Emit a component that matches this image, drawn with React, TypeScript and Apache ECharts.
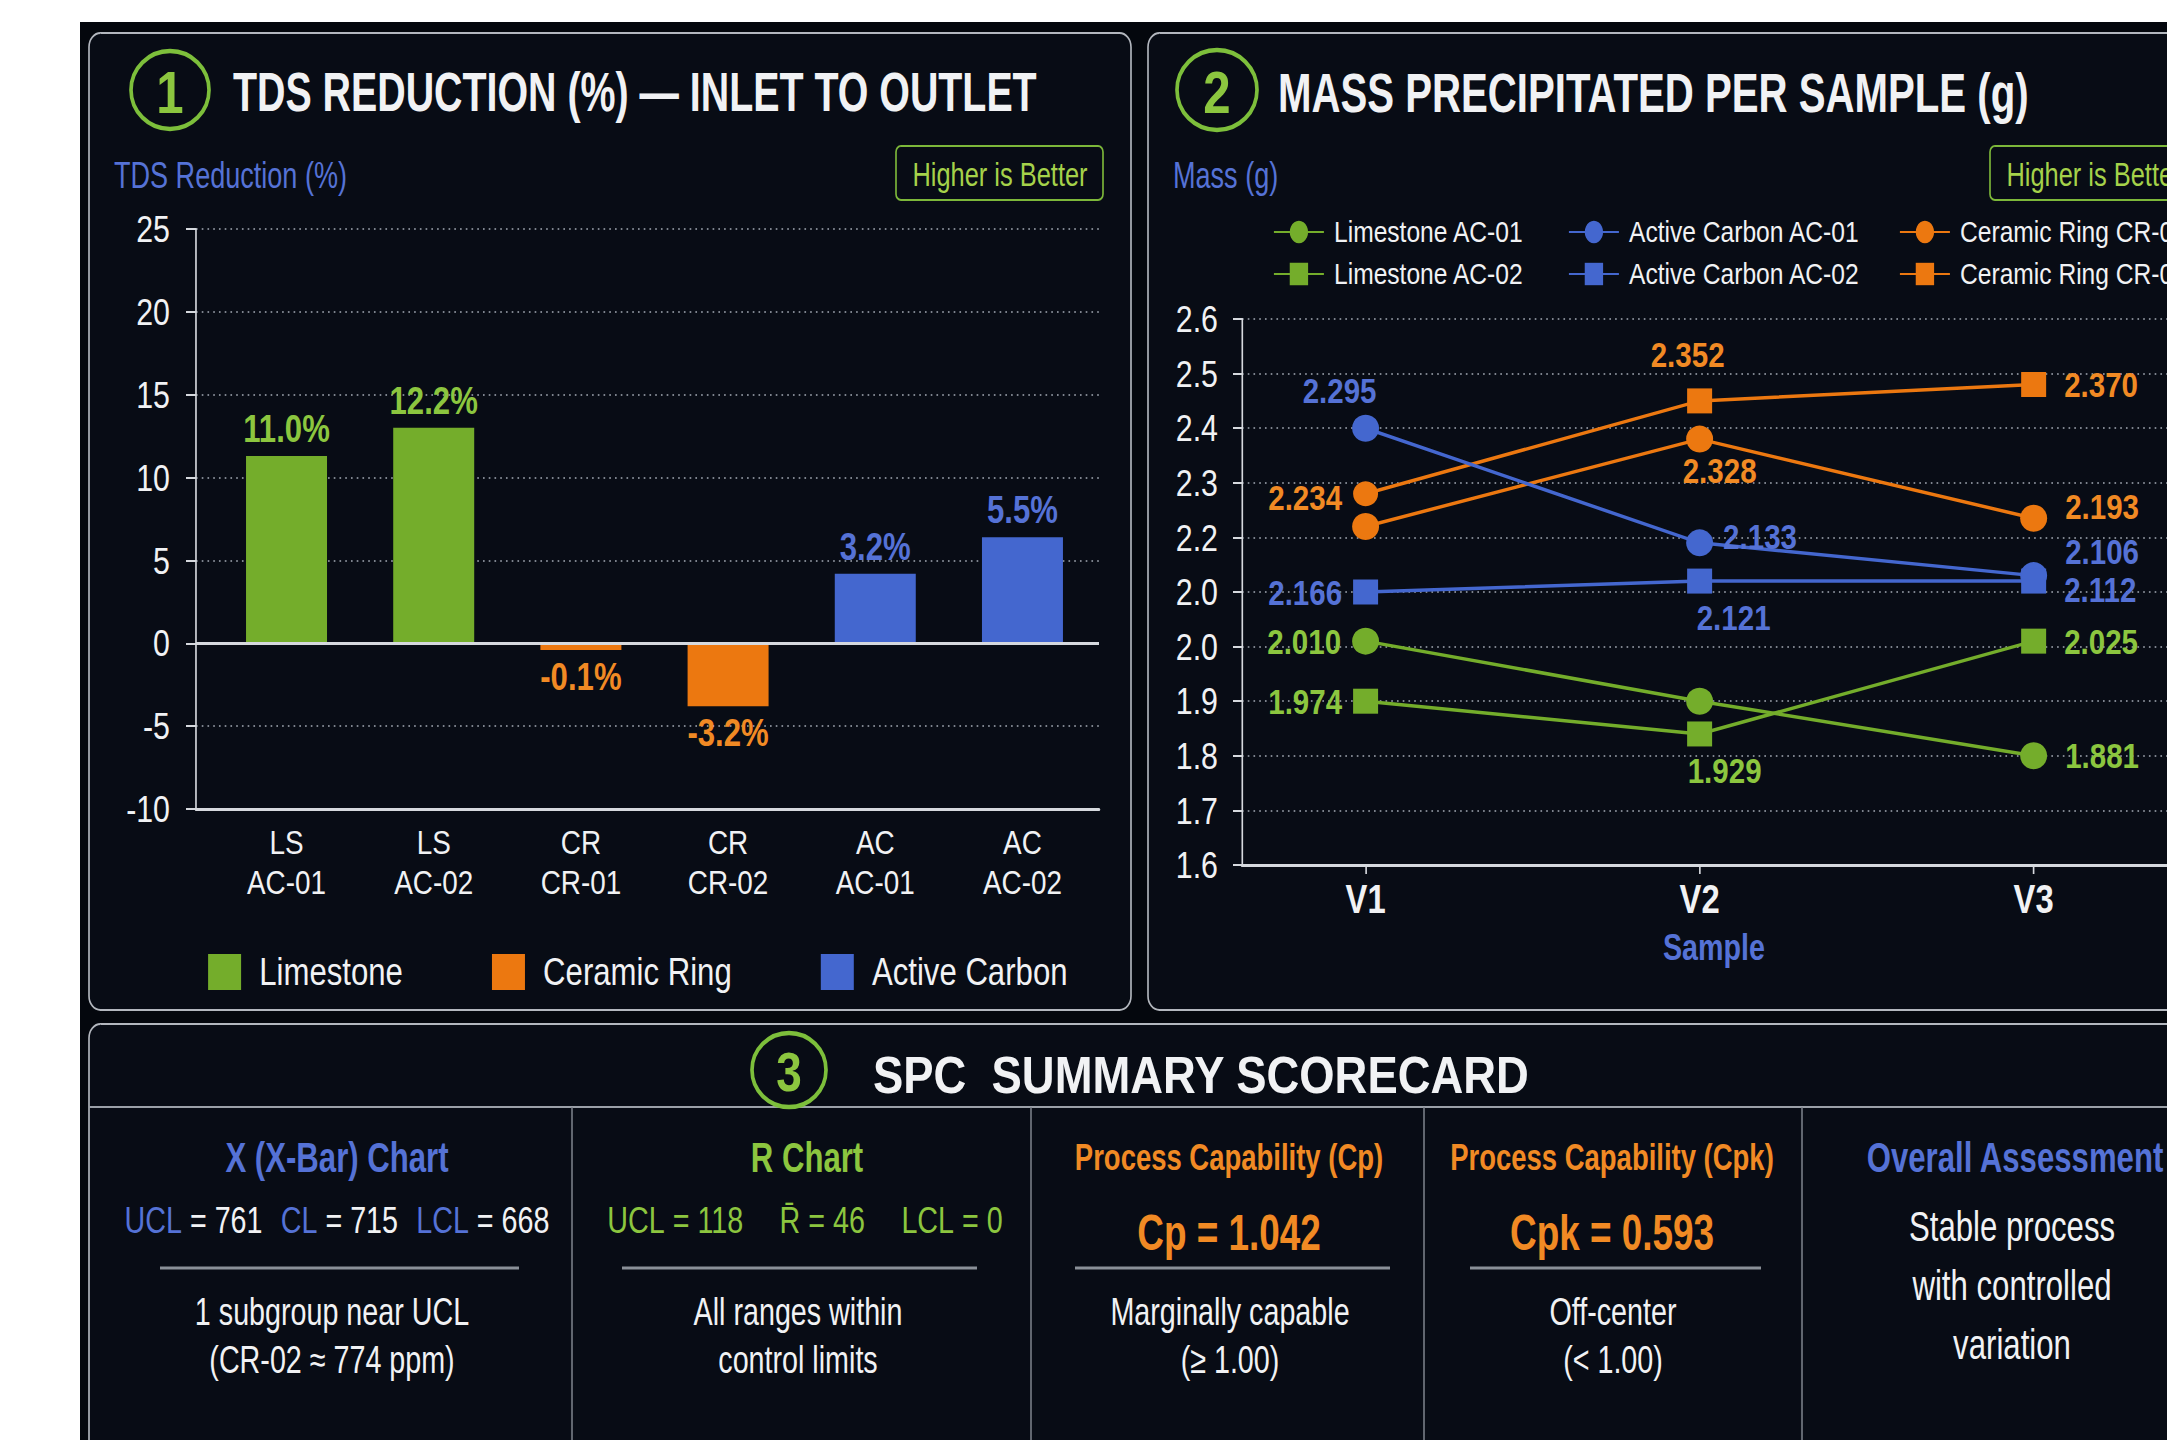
import React, { useEffect, useRef } from "react";
import * as echarts from "echarts";

// Arial-metric font, condensed horizontally by the page transform (≈ Arial Narrow)
const FONT = "'Liberation Sans', Arial, 'Noto Sans', sans-serif";
const S = 0.82; // horizontal condensation of the whole drawing
const X = (x: number) => x / S;

// ---------- Panel 1: TDS reduction ----------
const tdsCategories = ["LS\nAC-01", "LS\nAC-02", "CR\nCR-01", "CR\nCR-02", "AC\nAC-01", "AC\nAC-02"];
const mediaGroups = ["Limestone", "Ceramic Ring", "Active Carbon"];
const tdsGroupIndex = [0, 0, 1, 1, 2, 2];
const tdsValues = [11.3, 13.0, -0.4, -3.8, 4.2, 6.4];
const tdsLabels = ["11.0%", "12.2%", "-0.1%", "-3.2%", "3.2%", "5.5%"];
const tdsAxisMin = -10;
const tdsAxisMax = 25;
const tdsAxisStep = 5;

// ---------- Panel 2: mass precipitated ----------
const samples = ["V1", "V2", "V3"];
const massTickLabels = ["1.6", "1.7", "1.8", "1.9", "2.0", "2.0", "2.2", "2.3", "2.4", "2.5", "2.6"];
const massAxisMin = 1.6;
const massAxisMax = 2.6;
const massAxisStep = 0.1;

const limestoneAC01 = [2.01, 1.9, 1.8];
const limestoneAC01Labels = ["2.010", "", "1.881"];
const limestoneAC02 = [1.9, 1.84, 2.01];
const limestoneAC02Labels = ["1.974", "1.929", "2.025"];
const activeCarbonAC01 = [2.4, 2.19, 2.13];
const activeCarbonAC01Labels = ["2.295", "2.133", "2.106"];
const activeCarbonAC02 = [2.1, 2.12, 2.12];
const activeCarbonAC02Labels = ["2.166", "2.121", "2.112"];
const ceramicRingCR01 = [2.22, 2.38, 2.235];
const ceramicRingCR01Labels = ["", "2.328", "2.193"];
const ceramicRingCR02 = [2.28, 2.45, 2.48];
const ceramicRingCR02Labels = ["2.234", "2.352", "2.370"];

// ---------- Panel 3: SPC scorecard ----------
const spcHeaders = ["X (X-Bar) Chart", "R Chart", "Process Capability (Cp)", "Process Capability (Cpk)", "Overall Assessment"];
const xbarLimits = [["UCL", "761"], ["CL", "715"], ["LCL", "668"]];
const rLimits = [["UCL", "118"], ["R\u0304", "46"], ["LCL", "0"]];
const cpValue = "1.042";
const cpkValue = "0.593";
const xbarNote = ["1 subgroup near UCL", "(CR-02 \u2248 774 ppm)"];
const rNote = ["All ranges within", "control limits"];
const cpNote = ["Marginally capable", "(\u2265 1.00)"];
const cpkNote = ["Off-center", "(< 1.00)"];
const overallNote = ["Stable process", "with controlled", "variation"];

// ---------- colours ----------
const GREEN = "#74ad2b";
const ORANGE = "#ec7810";
const BLUE = "#4467cf";
const GREEN_T = "#8cc63f";
const ORANGE_T = "#f18a24";
const BLUE_T = "#5572d6";
const WHITE = "#f1f2f4";
const GRID = "#7d838d";
const AXIS = "#d6d9de";
const BG = "#04070d";
const PANEL = "#080c15";
const BORDER = "#b3b7be";

function buildOption() {
  const barColors = [GREEN, ORANGE, BLUE];
  const barLabelColors = [GREEN_T, ORANGE_T, BLUE_T];

  const barSeries = mediaGroups.map((g, gi) => ({
    type: "bar",
    name: g,
    xAxisIndex: 0,
    yAxisIndex: 0,
    barWidth: X(81),
    barGap: "-100%",
    itemStyle: { color: barColors[gi] },
    label: {
      show: true,
      fontFamily: FONT,
      fontSize: 38,
      fontWeight: "bold",
      color: barLabelColors[gi],
      distance: 8,
      formatter: (p: any) => tdsLabels[p.value[0]],
    },
    data: tdsValues
      .map((v, i) => ({ i, v }))
      .filter((d) => tdsGroupIndex[d.i] === gi)
      .map((d) => ({ value: [d.i, d.v], label: { position: d.v < 0 ? "bottom" : "top" } })),
    markLine:
      gi === 0
        ? {
            silent: true,
            symbol: "none",
            label: { show: false },
            lineStyle: { color: AXIS, width: 3, type: "solid" },
            data: [{ yAxis: 0 }],
          }
        : undefined,
  }));

  const lineColors = [GREEN, BLUE, ORANGE];
  const lineLabelColors = [GREEN_T, BLUE_T, ORANGE_T];
  const massSeriesDefs = [
    { name: "Limestone AC-01", values: limestoneAC01, labels: limestoneAC01Labels, kind: 0, symbol: "circle" },
    { name: "Limestone AC-02", values: limestoneAC02, labels: limestoneAC02Labels, kind: 0, symbol: "rect" },
    { name: "Active Carbon AC-01", values: activeCarbonAC01, labels: activeCarbonAC01Labels, kind: 1, symbol: "circle" },
    { name: "Active Carbon AC-02", values: activeCarbonAC02, labels: activeCarbonAC02Labels, kind: 1, symbol: "rect" },
    { name: "Ceramic Ring CR-01", values: ceramicRingCR01, labels: ceramicRingCR01Labels, kind: 2, symbol: "circle" },
    { name: "Ceramic Ring CR-02", values: ceramicRingCR02, labels: ceramicRingCR02Labels, kind: 2, symbol: "rect" },
  ];
  const L = (position: string, distance: number, dx = 0, dy = 0) => ({
    position,
    distance: position === "left" || position === "right" ? X(distance) : distance,
    offset: [X(dx), dy],
  });
  const placement: Record<string, any[]> = {
    "Limestone AC-01": [L("left", 11), null, L("right", 18)],
    "Limestone AC-02": [L("left", 11), L("bottom", 6, 25, 0), L("right", 18)],
    "Active Carbon AC-01": [L("top", 6, -26, 0), L("right", 10, 0, -6), L("right", 18, 0, -24)],
    "Active Carbon AC-02": [L("left", 11), L("bottom", 6, 34, 0), L("right", 18, 0, 8)],
    "Ceramic Ring CR-01": [null, L("bottom", 0, 20, 0), L("right", 18, 0, -12)],
    "Ceramic Ring CR-02": [L("left", 11, 0, 4), L("top", 16, -12, 0), L("right", 18)],
  };

  const lineSeries = massSeriesDefs.map((d) => ({
    type: "line",
    name: d.name,
    xAxisIndex: 1,
    yAxisIndex: 1,
    symbol: d.symbol,
    symbolSize: d.symbol === "circle" ? [X(27), 27] : [X(25), 25],
    lineStyle: { color: lineColors[d.kind], width: 3.5 },
    itemStyle: { color: lineColors[d.kind] },
    z: d.kind === 1 ? 4 : 3,
    label: {
      show: true,
      fontFamily: FONT,
      fontSize: 36,
      fontWeight: "bold",
      color: lineLabelColors[d.kind],
      formatter: (p: any) => d.labels[p.dataIndex],
    },
    data: d.values.map((v, i) => {
      const pl = placement[d.name][i];
      const item: any = { value: [i + 1, v], label: pl ? { show: true, ...pl } : { show: false } };
      if (d.name === "Ceramic Ring CR-02" && i === 0) item.symbol = "circle";
      return item;
    }),
  }));

  const txt = (text: string, x: number, y: number, size: number, fill: string, opts: any = {}) => ({
    type: "text",
    x: X(x),
    y,
    z: 100,
    scaleX: opts.scaleX ?? 1,
    scaleY: opts.scaleY ?? 1,
    style: {
      text,
      fill,
      fontFamily: FONT,
      fontSize: size,
      fontWeight: opts.bold ? "bold" : "normal",
      align: opts.align ?? "center",
      verticalAlign: "middle",
      rich: opts.rich,
    },
  });
  const hline = (x1: number, x2: number, y: number, stroke: string, w: number) => ({
    type: "line",
    z: 50,
    shape: { x1: X(x1), y1: y, x2: X(x2), y2: y },
    style: { stroke, lineWidth: w },
  });
  const vline = (x: number, y1: number, y2: number, stroke: string, w: number) => ({
    type: "line",
    z: 50,
    shape: { x1: X(x), y1, x2: X(x), y2 },
    style: { stroke, lineWidth: w / S },
  });
  const ring = (cx: number, cy: number, r: number) => ({
    type: "ellipse",
    z: 60,
    shape: { cx: X(cx), cy, rx: X(r), ry: r },
    style: { fill: "transparent", stroke: "#7dbf3b", lineWidth: 4.5 },
  });
  const box = (x: number, y: number, w: number, h: number, r: number, fill: string, stroke: string, lw: number, z: number) => ({
    type: "rect",
    z,
    shape: { x: X(x), y, width: X(w), height: h, r },
    style: { fill, stroke, lineWidth: lw },
  });

  const limitText = (pairs: string[][], gap: number) =>
    pairs.map((p) => `{l|${p[0]}}{v| = ${p[1]}}`).join(`{g|${" ".repeat(gap)}}`);
  const limitRich = (labelColor: string, valueColor: string) => ({
    l: { fill: labelColor, fontFamily: FONT, fontSize: 35 },
    v: { fill: valueColor, fontFamily: FONT, fontSize: 35 },
    g: { fontFamily: FONT, fontSize: 20 },
  });

  const colCenters = [337, 807, 1229, 1612, 2015];
  const headerColors = [BLUE_T, GREEN_T, ORANGE_T, ORANGE_T, BLUE_T];
  const headerSizes = [38, 38, 33.5, 33.5, 38];

  const graphics: any[] = [
    box(80, 22, 2100, 1418, 0, BG, "transparent", 0, -100),
    box(89, 33, 1042, 977, 14, PANEL, BORDER, 2, -90),
    box(1148, 33, 1100, 977, 14, PANEL, BORDER, 2, -90),
    box(89, 1024, 2120, 500, 14, PANEL, BORDER, 2, -90),
    // panel 1 header
    ring(170, 90, 39),
    txt("1", 170, 92, 60, GREEN_T, { bold: true }),
    txt("TDS REDUCTION (%) \u2014 INLET TO OUTLET", 233, 92, 48, WHITE, { bold: true, align: "left", scaleY: 1.15 }),
    txt("TDS Reduction (%)", 114, 176, 33, BLUE_T, { align: "left", scaleY: 1.1 }),
    box(896, 146, 207, 54, 6, "transparent", "#7db83a", 2, 60),
    txt("Higher is Better", 1000, 174, 31, "#a5d24a", { scaleY: 1.1 }),
    // panel 2 header
    ring(1217, 90, 40),
    txt("2", 1217, 92, 60, GREEN_T, { bold: true }),
    txt("MASS PRECIPITATED PER SAMPLE (g)", 1278, 92, 49, WHITE, { bold: true, align: "left", scaleY: 1.15 }),
    txt("Mass (g)", 1173, 176, 33, BLUE_T, { align: "left", scaleY: 1.1 }),
    box(1990, 146, 207, 54, 6, "transparent", "#7db83a", 2, 60),
    txt("Higher is Better", 2094, 174, 31, "#a5d24a", { scaleY: 1.1 }),
    txt("Sample", 1714, 947, 35, BLUE_T, { bold: true, scaleY: 1.08 }),
    // panel 3
    hline(89, 2200, 1107, "#9ba0a8", 2),
    vline(572, 1107, 1440, "#7f858e", 1.5),
    vline(1031, 1107, 1440, "#7f858e", 1.5),
    vline(1424, 1107, 1440, "#7f858e", 1.5),
    vline(1802, 1107, 1440, "#7f858e", 1.5),
    ring(789, 1070, 37),
    txt("3", 789, 1072, 56, GREEN_T, { bold: true }),
    txt("SPC  SUMMARY SCORECARD", 873, 1075, 49, WHITE, { bold: true, align: "left", scaleX: 1.13, scaleY: 1.05 }),
    ...spcHeaders.map((h, i) =>
      txt(h, colCenters[i], 1157, headerSizes[i], headerColors[i], { bold: true, scaleY: 1.12 })
    ),
    txt(limitText(xbarLimits, 4), colCenters[0], 1220, 35, WHITE, { rich: limitRich(BLUE_T, WHITE), scaleY: 1.08 }),
    txt(limitText(rLimits, 8), 805, 1220, 35, GREEN_T, { rich: limitRich(GREEN_T, GREEN_T), scaleY: 1.08 }),
    txt(`Cp = ${cpValue}`, colCenters[2], 1232, 45, ORANGE_T, { bold: true, scaleY: 1.1 }),
    txt(`Cpk = ${cpkValue}`, colCenters[3], 1232, 45, ORANGE_T, { bold: true, scaleY: 1.1 }),
    hline(160, 519, 1268, "#8a9098", 3),
    hline(622, 977, 1268, "#8a9098", 3),
    hline(1075, 1390, 1268, "#8a9098", 3),
    hline(1470, 1761, 1268, "#8a9098", 3),
    ...xbarNote.map((t, i) => txt(t, 332, 1311 + i * 48, 35, WHITE, { scaleY: 1.1 })),
    ...rNote.map((t, i) => txt(t, 798, 1311 + i * 48, 35, WHITE, { scaleY: 1.1 })),
    ...cpNote.map((t, i) => txt(t, 1230, 1311 + i * 48, 35, WHITE, { scaleY: 1.1 })),
    ...cpkNote.map((t, i) => txt(t, 1613, 1311 + i * 48, 35, WHITE, { scaleY: 1.1 })),
    ...overallNote.map((t, i) => txt(t, 2012, 1227 + i * 59, 38, WHITE, { scaleY: 1.1 })),
  ];

  const axisLabelStyle = { color: WHITE, fontFamily: FONT, fontSize: 37 };
  const catIdx = tdsCategories.map((_, i) => i);

  return {
    animation: false,
    backgroundColor: "#ffffff",
    textStyle: { fontFamily: FONT },
    graphic: { elements: graphics },
    grid: [
      { left: X(196), top: 229, width: X(903), height: 580, containLabel: false },
      { left: X(1242), top: 319, width: X(953), height: 546, containLabel: false },
    ],
    legend: [
      {
        data: mediaGroups,
        left: X(204),
        top: 948,
        icon: "rect",
        itemWidth: X(33),
        itemHeight: 36,
        itemGap: X(89),
        selectedMode: false,
        textStyle: { color: WHITE, fontFamily: FONT, fontSize: 38, padding: [0, 0, 0, X(14)] },
      },
      ...[0, 1, 2].map((k) => ({
        data: [massSeriesDefs[k * 2].name, massSeriesDefs[k * 2 + 1].name],
        left: X([1269, 1564, 1895][k]),
        top: 212,
        orient: "vertical",
        itemWidth: X(50),
        itemHeight: 28,
        itemGap: 12,
        selectedMode: false,
        textStyle: { color: WHITE, fontFamily: FONT, fontSize: 30, padding: [0, 0, 0, X(6)] },
      })),
    ],
    xAxis: [
      {
        type: "value",
        gridIndex: 0,
        min: -0.615,
        max: 5.52,
        axisLine: { show: true, onZero: false, lineStyle: { color: AXIS, width: 3 } },
        axisTick: { show: false },
        axisLabel: {
          customValues: catIdx,
          color: WHITE,
          fontFamily: FONT,
          fontSize: 34,
          lineHeight: 40,
          margin: 14,
          formatter: (v: number) => tdsCategories[Math.round(v)] ?? "",
        },
        splitLine: { show: false },
      },
      {
        type: "value",
        gridIndex: 1,
        min: 0.63,
        max: 3.4,
        axisLine: { show: true, onZero: false, lineStyle: { color: AXIS, width: 3 } },
        axisTick: { show: true, customValues: [1, 2, 3], length: 9, lineStyle: { color: AXIS, width: 2 } },
        axisLabel: {
          customValues: [1, 2, 3],
          color: WHITE,
          fontFamily: FONT,
          fontSize: 40,
          fontWeight: "bold",
          margin: 14,
          formatter: (v: number) => samples[Math.round(v) - 1] ?? "",
        },
        splitLine: { show: false },
      },
    ],
    yAxis: [
      {
        type: "value",
        gridIndex: 0,
        min: tdsAxisMin,
        max: tdsAxisMax,
        interval: tdsAxisStep,
        axisLine: { show: true, onZero: false, lineStyle: { color: AXIS, width: 2 } },
        axisTick: { show: true, length: X(10), lineStyle: { color: AXIS, width: 2 } },
        axisLabel: { ...axisLabelStyle, margin: X(26) },
        splitLine: { show: true, lineStyle: { color: GRID, width: 2, type: [2, 5] } },
      },
      {
        type: "value",
        gridIndex: 1,
        min: massAxisMin,
        max: massAxisMax,
        interval: massAxisStep,
        axisLine: { show: true, onZero: false, lineStyle: { color: AXIS, width: 2 } },
        axisTick: { show: true, length: X(9), lineStyle: { color: AXIS, width: 2 } },
        axisLabel: {
          ...axisLabelStyle,
          fontSize: 37,
          margin: X(24),
          formatter: (v: number) => massTickLabels[Math.round((v - massAxisMin) / massAxisStep)] ?? "",
        },
        splitLine: { show: true, lineStyle: { color: GRID, width: 2, type: [2, 5] } },
      },
    ],
    series: [...barSeries, ...lineSeries],
  };
}

export default function App() {
  const ref = useRef<HTMLDivElement>(null);
  useEffect(() => {
    if (!ref.current) return;
    const chart = echarts.init(ref.current, null, { renderer: "svg" });
    chart.setOption(buildOption() as any);
    return () => chart.dispose();
  }, []);
  return (
    <div style={{ position: "fixed", left: 0, top: 0, width: 2167, height: 1440, overflow: "hidden", background: "#ffffff" }}>
      <div
        ref={ref}
        style={{
          position: "absolute",
          left: 0,
          top: 0,
          width: Math.ceil(2167 / S),
          height: 1440,
          transform: `scaleX(${S})`,
          transformOrigin: "0 0",
        }}
      />
    </div>
  );
}
